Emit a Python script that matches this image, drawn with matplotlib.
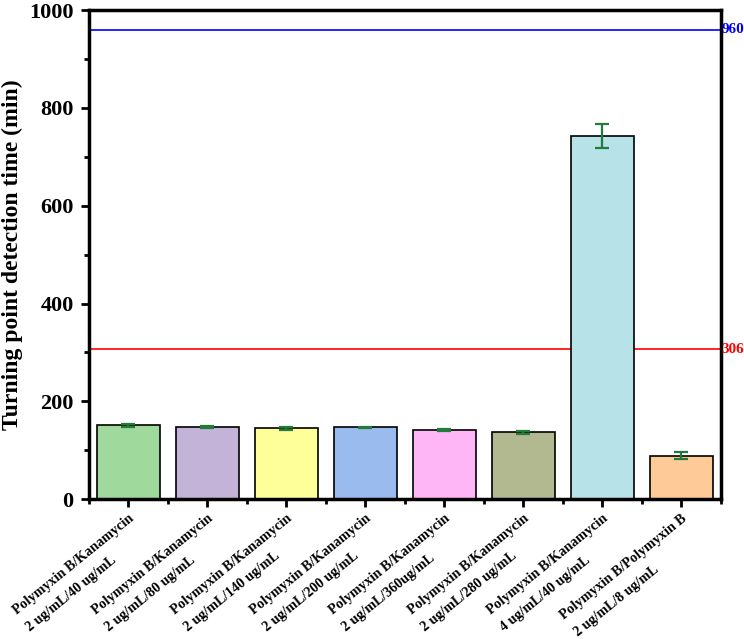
import matplotlib.pyplot as plt
from matplotlib.ticker import MultipleLocator, FixedLocator
from matplotlib.transforms import ScaledTranslation

plt.rcParams['font.family'] = ['Liberation Serif', 'DejaVu Serif']
plt.rcParams['font.weight'] = 'bold'

# data
labels = [
    'Polymyxin B/Kanamycin\n2 ug/mL/40 ug/mL',
    'Polymyxin B/Kanamycin\n2 ug/mL/80 ug/mL',
    'Polymyxin B/Kanamycin\n2 ug/mL/140 ug/mL',
    'Polymyxin B/Kanamycin\n2 ug/mL/200 ug/mL',
    'Polymyxin B/Kanamycin\n2 ug/mL/360ug/mL',
    'Polymyxin B/Kanamycin\n2 ug/mL/280 ug/mL',
    'Polymyxin B/Kanamycin\n4 ug/mL/40 ug/mL',
    'Polymyxin B/Polymyxin B\n2 ug/mL/8 ug/mL',
]
means = [151, 148, 145, 147, 142, 137, 743, 89]
errs = [3, 2, 3, 1, 2, 3, 25, 7]
bar_colors = ['#9fd99b', '#c3b3d8', '#ffff99', '#99bbee',
              '#ffb6f7', '#b2b88f', '#b6e2e8', '#fdca98']
ref_lines = [960, 306]
ref_colors = ['#0000ff', '#ff0000']

fig = plt.figure(figsize=(7.44, 6.39), dpi=100)
ax = fig.add_axes([0.1196, 0.219, 0.8494, 0.765])

x = list(range(len(means)))
ax.bar(x, means, width=0.8, color=bar_colors, edgecolor='black', linewidth=1.2, zorder=2)
ax.errorbar(x, means, yerr=errs, fmt='none', ecolor='#247a3a', elinewidth=1.6,
            capsize=5, capthick=1.6, zorder=3)

for val, c in zip(ref_lines, ref_colors):
    ax.axhline(val, color=c, linewidth=1.2, zorder=1)
    ax.text(1.001, val, str(val), transform=ax.get_yaxis_transform(), color=c,
            fontsize=11, fontweight='bold', ha='left', va='center')

ax.set_xlim(-0.5, 7.5)
ax.set_ylim(0, 1000)
ax.yaxis.set_major_locator(MultipleLocator(200))
ax.yaxis.set_minor_locator(MultipleLocator(100))
ax.set_xticks(x)
ax.xaxis.set_minor_locator(FixedLocator([i + 0.5 for i in range(-1, len(means))]))
ax.set_xticklabels(labels, rotation=39, ha='right', va='top', rotation_mode='anchor',
                   fontsize=10.2, fontweight='bold', multialignment='left', linespacing=1.8)
shift = ScaledTranslation(13 / 72, 0, fig.dpi_scale_trans)
for t in ax.get_xticklabels():
    t.set_transform(t.get_transform() + shift)
for t in ax.get_yticklabels():
    t.set_fontsize(16)
    t.set_fontweight('bold')

ax.tick_params(which='major', direction='out', length=6, width=2)
ax.tick_params(axis='y', which='major', pad=5)
ax.tick_params(which='minor', direction='out', length=3.5, width=2)
ax.tick_params(top=False, right=False)
for s in ax.spines.values():
    s.set_linewidth(2.5)

ax.set_ylabel('Turning point detection time (min)', fontsize=17, fontweight='bold', labelpad=4.5)

fig.savefig('out.png', dpi=100)
